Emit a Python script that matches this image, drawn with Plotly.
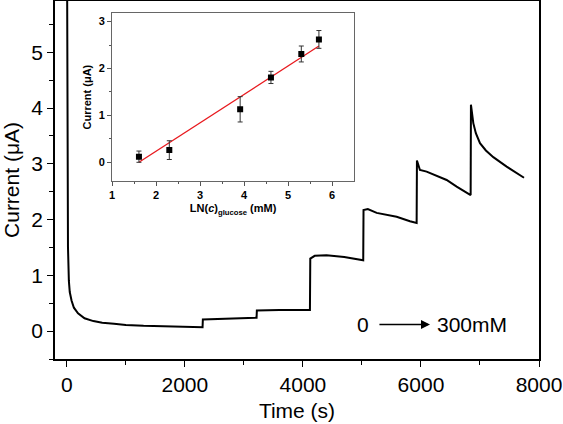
import plotly.graph_objects as go

# Main amperometric trace
time_s = [0, 5, 10, 20, 35, 50, 80, 120, 190, 300, 450, 600, 800, 1000, 1300, 1600, 2000, 2300,
          2305, 2600, 3000, 3215,
          3220, 3600, 4119,
          4125, 4200, 4400, 4700, 5022,
          5027, 5100, 5250, 5588, 5814, 5927,
          5932, 5983, 6096, 6300, 6435, 6605, 6842,
          6847, 6870, 6887, 6930, 7000, 7100, 7226, 7452, 7600, 7746]
current_uA = [8.0, 5.0, 3.0, 1.5, 0.9, 0.7, 0.55, 0.42, 0.32, 0.23, 0.18, 0.15, 0.13, 0.11, 0.095, 0.085, 0.075, 0.07,
              0.21, 0.22, 0.23, 0.24,
              0.37, 0.38, 0.38,
              1.30, 1.35, 1.36, 1.33, 1.27,
              2.17, 2.19, 2.12, 2.05, 1.97, 1.94,
              3.06, 2.89, 2.86, 2.77, 2.71, 2.59, 2.44,
              4.06, 3.85, 3.73, 3.55, 3.37, 3.24, 3.12, 2.95, 2.85, 2.75]

# Inset calibration data
ln_c = [1.61, 2.30, 3.91, 4.61, 5.30, 5.70]
inset_current = [0.12, 0.26, 1.13, 1.81, 2.31, 2.62]
inset_err = [0.12, 0.20, 0.27, 0.13, 0.17, 0.19]
fit_x = [1.61, 5.70]
fit_y = [0.0, 2.48]

fig = go.Figure()
fig.add_trace(go.Scatter(x=time_s, y=current_uA, mode="lines",
                         line=dict(color="black", width=2), showlegend=False))
fig.add_trace(go.Scatter(x=fit_x, y=fit_y, mode="lines", xaxis="x2", yaxis="y2",
                         line=dict(color="#e8191e", width=1.3), showlegend=False))
fig.add_trace(go.Scatter(x=ln_c, y=inset_current, mode="markers", xaxis="x2", yaxis="y2",
                         marker=dict(symbol="square", size=6, color="black"),
                         error_y=dict(type="data", array=inset_err, color="#333333",
                                      thickness=1, width=2.5),
                         showlegend=False))

main_font = dict(family="Liberation Sans, Arial, sans-serif", size=21, color="black")
inset_font = dict(family="Liberation Sans, Arial, sans-serif", size=11, color="black")
inset_tick_font = dict(family="Liberation Sans, Arial, sans-serif", size=11, color="black", weight="bold")

fig.update_layout(
    width=563, height=424,
    margin=dict(l=55, r=24, t=1, b=65),
    paper_bgcolor="white", plot_bgcolor="white",
    font=main_font,
    xaxis=dict(range=[-200, 8000], tickvals=[0, 2000, 4000, 6000, 8000], automargin=False,
               ticks="outside", ticklen=6, tickwidth=1.3, tickcolor="black",
               minor=dict(tickvals=[1000, 3000, 5000, 7000], ticks="outside", ticklen=4,
                          tickwidth=1.3, tickcolor="black"),
               showline=True, linecolor="black", linewidth=1.5, mirror=True,
               showgrid=False, zeroline=False,
               title=dict(text="Time (s)", font=main_font, standoff=8),
               tickfont=main_font),
    yaxis=dict(range=[-0.5, 5.92], tickvals=[0, 1, 2, 3, 4, 5], automargin=False,
               ticks="outside", ticklen=6, tickwidth=1.3, tickcolor="black",
               minor=dict(tickvals=[-0.5, 0.5, 1.5, 2.5, 3.5, 4.5, 5.5], ticks="outside",
                          ticklen=4, tickwidth=1.3, tickcolor="black"),
               showline=True, linecolor="black", linewidth=1.5, mirror=True,
               showgrid=False, zeroline=False,
               title=dict(text="Current (μA)", font=main_font, standoff=8),
               tickfont=main_font),
    xaxis2=dict(domain=[0.118, 0.618], anchor="y2", range=[1, 6.5], automargin=False,
                tickvals=[1, 2, 3, 4, 5, 6], ticks="outside", ticklen=4, tickcolor="#555555",
                minor=dict(tickvals=[1.5, 2.5, 3.5, 4.5, 5.5], ticks="outside", ticklen=2,
                           tickcolor="#555555"),
                showline=True, linecolor="#666666", linewidth=1, mirror=True,
                showgrid=False, zeroline=False,
                tickfont=inset_tick_font,
                title=dict(text="<b>LN(<i>c</i>)<sub>glucose</sub> (mM)</b>", font=inset_font, standoff=4)),
    yaxis2=dict(domain=[0.497, 0.966], anchor="x2", range=[-0.4, 3.18], automargin=False,
                tickvals=[0, 1, 2, 3], ticks="outside", ticklen=4, tickcolor="#555555",
                minor=dict(tickvals=[0.5, 1.5, 2.5], ticks="outside", ticklen=2,
                           tickcolor="#555555"),
                showline=True, linecolor="#666666", linewidth=1, mirror=True,
                showgrid=False, zeroline=False,
                tickfont=inset_tick_font,
                title=dict(text="<b>Current (μA)</b>", font=inset_font, standoff=4)),
)

fig.add_annotation(x=5017, y=0.12, text="0", showarrow=False, font=main_font)
fig.add_annotation(x=6864, y=0.12, text="300mM", showarrow=False, font=main_font)
fig.add_annotation(x=6153, y=0.12, ax=5271, ay=0.12, axref="x", ayref="y",
                   xref="x", yref="y", text="", showarrow=True,
                   arrowhead=2, arrowsize=1.2, arrowwidth=1.5, arrowcolor="black")

fig.write_html("out.html", config={"displayModeBar": False},
               post_script="document.body.style.margin='0px';document.body.style.padding='0px';document.body.style.overflow='hidden';")
